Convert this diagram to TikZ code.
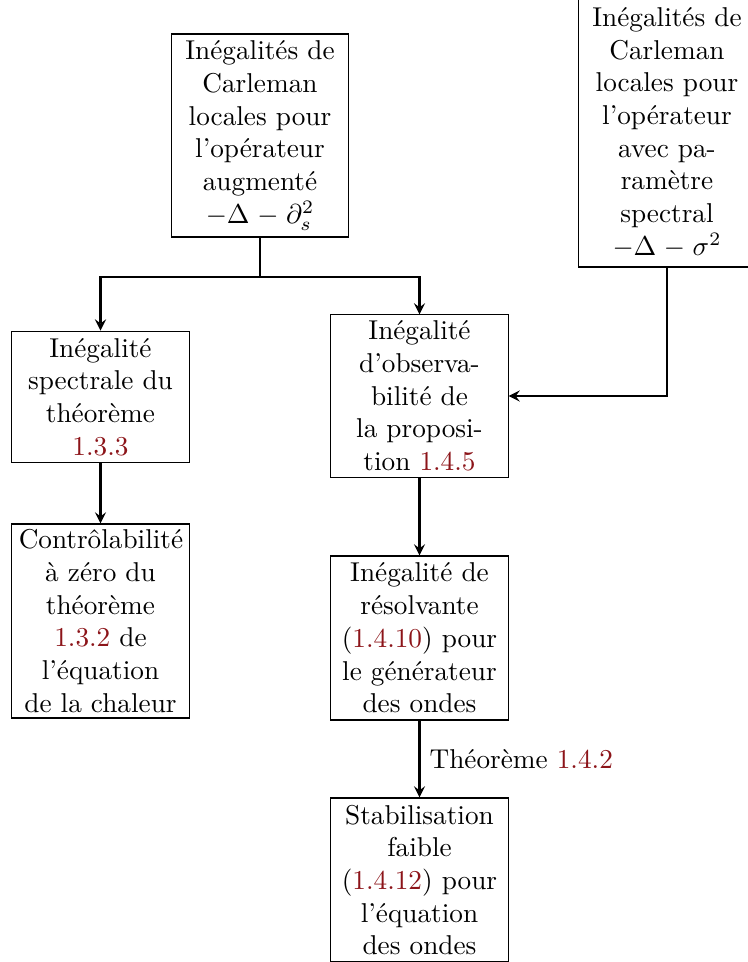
\documentclass[tikz,border=0pt]{standalone}
\usetikzlibrary{positioning}
\definecolor{refred}{rgb}{0.55,0.08,0.1}
\newcommand{\rf}[1]{\textcolor{refred}{#1}}
\begin{document}
\begin{tikzpicture}[x=0.367pt,y=-0.367pt,
  box/.style={draw,thin,text width=60pt,align=center,inner xsep=2.5pt,inner ysep=1pt},
  arr/.style={thick,-stealth}]
\useasboundingbox (0,0) rectangle (748,962);
\clip (0,0) rectangle (748,962);
\node[box,minimum height=74.5pt] (A) at (260,135.5) {Inégalités de\\ Carleman\\ locales pour\\ l'opérateur\\ augmenté\\ $-\Delta-\partial_s^2$};
\node[box,minimum height=98.7pt] (B) at (667,132.5) {Inégalités de\\ Carleman\\ locales pour\\ l'opérateur\\ avec pa-\\ ramètre\\ spectral\\ $-\Delta-\sigma^2$};
\node[box,minimum height=59.5pt] (C) at (419.5,396) {Inégalité\\ d'observa-\\ bilité de\\ la proposi-\\ tion \rf{1.4.5}};
\node[box,minimum height=48.4pt] (D) at (100.5,397) {Inégalité\\ spectrale du\\ théorème\\ \rf{1.3.3}};
\node[box,minimum height=71.2pt] (E) at (100.5,621) {Contrôlabilité\\ à zéro du\\ théorème\\ \rf{1.3.2} de\\ l'équation\\ de la chaleur};
\node[box,minimum height=60.2pt] (F) at (419.5,638) {Inégalité de\\ résolvante\\ (\rf{1.4.10}) pour\\ le générateur\\ des ondes};
\node[box,minimum height=60.2pt] (G) at (419.5,880) {Stabilisation\\ faible\\ (\rf{1.4.12}) pour\\ l'équation\\ des ondes};
\coordinate (J) at (260,277);
\draw[thick] (A.south) -- (J);
\draw[arr] (J) -| (D.north);
\draw[arr] (J) -| (C.north);
\draw[arr] (B.south) |- (C.east);
\draw[arr] (D.south) -- (E.north);
\draw[arr] (C.south) -- (F.north);
\draw[arr] (F.south) -- node[right] {Théorème \rf{1.4.2}} (G.north);
\end{tikzpicture}
\end{document}
